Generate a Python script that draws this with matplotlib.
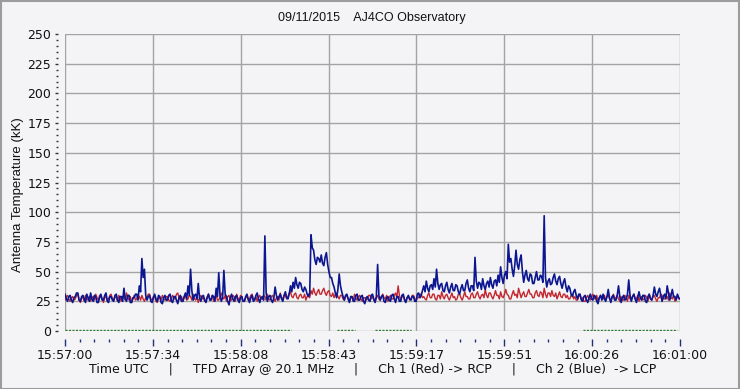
import matplotlib
matplotlib.use("Agg")
import matplotlib.pyplot as plt
import numpy as np

# two samples per second, starting 15:57:00 UTC
sample_step = 0.5

blue_lcp = [
    31, 27, 25, 29, 30, 26, 24, 28, 29, 32, 32, 26, 25, 29, 30, 27, 24, 31, 28, 25,
    32, 27, 25, 30, 29, 24, 24, 28, 31, 26, 26, 30, 32, 25, 24, 29, 29, 26, 25, 30,
    31, 26, 24, 29, 29, 25, 36, 27, 25, 30, 30, 24, 24, 28, 28, 31, 31, 26, 38, 33,
    61, 45, 52, 30, 26, 29, 30, 25, 24, 28, 31, 27, 25, 30, 29, 24, 23, 28, 30, 26,
    26, 30, 31, 25, 24, 29, 29, 26, 23, 28, 30, 25, 25, 29, 32, 27, 38, 30, 52, 34,
    26, 30, 31, 27, 40, 28, 25, 29, 30, 26, 24, 28, 31, 26, 26, 30, 29, 25, 36, 29,
    49, 30, 25, 28, 51, 31, 29, 25, 22, 28, 31, 27, 25, 29, 30, 26, 24, 28, 29, 25,
    25, 29, 31, 27, 24, 28, 30, 25, 26, 30, 32, 27, 24, 28, 29, 26, 80, 32, 25, 29,
    30, 26, 24, 28, 37, 30, 26, 29, 31, 27, 25, 30, 33, 28, 27, 31, 38, 33, 41, 36,
    45, 39, 36, 41, 40, 35, 33, 37, 35, 31, 29, 32, 81, 70, 68, 60, 56, 62, 61, 58,
    64, 57, 55, 62, 66, 56, 50, 45, 45, 40, 37, 32, 28, 35, 48, 38, 33, 29, 26, 30,
    31, 27, 24, 29, 29, 25, 25, 30, 31, 26, 26, 29, 30, 25, 23, 28, 29, 26, 25, 30,
    31, 27, 24, 29, 56, 30, 26, 29, 30, 25, 24, 28, 29, 26, 25, 30, 31, 27, 24, 29,
    29, 25, 25, 30, 31, 26, 24, 28, 30, 27, 26, 29, 29, 25, 25, 31, 32, 28, 30, 34,
    38, 33, 42, 36, 33, 38, 39, 35, 44, 37, 52, 40, 35, 39, 40, 34, 33, 38, 41, 35,
    32, 37, 40, 34, 34, 39, 38, 33, 31, 36, 39, 34, 34, 40, 43, 36, 33, 38, 38, 34,
    62, 42, 36, 41, 40, 35, 44, 38, 35, 40, 42, 37, 45, 39, 36, 42, 43, 38, 47, 41,
    54, 45, 40, 47, 50, 44, 73, 58, 61, 52, 46, 55, 68, 56, 52, 60, 64, 50, 41, 47,
    51, 44, 42, 48, 47, 40, 40, 45, 50, 43, 43, 47, 46, 41, 97, 45, 37, 42, 44, 39,
    40, 45, 48, 42, 39, 44, 46, 40, 36, 41, 44, 37, 33, 38, 36, 31, 29, 33, 35, 30,
    27, 31, 31, 26, 25, 29, 30, 26, 24, 28, 31, 27, 26, 30, 29, 25, 23, 28, 30, 26,
    31, 27, 25, 29, 35, 28, 24, 29, 30, 26, 26, 30, 38, 29, 24, 28, 30, 26, 27, 31,
    43, 30, 25, 29, 31, 27, 24, 28, 33, 28, 26, 30, 30, 25, 24, 29, 31, 27, 26, 30,
    37, 31, 29, 33, 36, 30, 25, 29, 31, 27, 38, 32, 26, 30, 35, 29, 29, 26, 31, 28,
    27,
]

red_rcp = [
    26, 29, 30, 27, 25, 28, 29, 26, 27, 30, 31, 26, 24, 28, 28, 25, 30, 27, 26, 29,
    25, 28, 29, 26, 31, 28, 26, 30, 30, 27, 24, 28, 29, 26, 27, 30, 31, 27, 26, 29,
    28, 25, 30, 27, 25, 29, 29, 26, 32, 28, 26, 29, 24, 27, 30, 26, 27, 30, 29, 26,
    30, 27, 25, 28, 28, 31, 31, 27, 26, 29, 29, 25, 24, 28, 28, 26, 30, 27, 26, 29,
    29, 26, 25, 28, 30, 27, 27, 31, 32, 28, 26, 29, 25, 28, 30, 26, 27, 30, 29, 26,
    31, 27, 26, 29, 24, 28, 30, 27, 28, 25, 26, 29, 31, 27, 27, 30, 25, 28, 30, 26,
    26, 29, 32, 28, 27, 30, 25, 29, 30, 26, 26, 30, 29, 25, 31, 27, 26, 30, 29, 25,
    25, 28, 29, 26, 27, 30, 31, 27, 26, 29, 25, 28, 30, 27, 27, 30, 29, 26, 31, 27,
    26, 29, 30, 27, 25, 28, 29, 26, 32, 28, 27, 30, 30, 27, 29, 32, 33, 29, 28, 31,
    32, 28, 27, 30, 31, 28, 28, 31, 26, 29, 31, 28, 34, 31, 36, 32, 30, 33, 35, 31,
    31, 34, 36, 32, 30, 33, 34, 30, 29, 32, 28, 31, 32, 29, 27, 30, 30, 27, 26, 29,
    30, 27, 25, 28, 29, 26, 31, 28, 26, 29, 30, 27, 25, 28, 28, 26, 27, 30, 30, 27,
    29, 26, 25, 28, 30, 27, 26, 29, 31, 28, 27, 30, 25, 28, 30, 27, 27, 30, 32, 28,
    38, 30, 26, 29, 30, 27, 25, 28, 29, 26, 27, 30, 30, 27, 25, 28, 28, 31, 31, 28,
    29, 27, 26, 30, 32, 28, 28, 31, 31, 27, 26, 30, 30, 27, 33, 29, 27, 30, 31, 28,
    26, 29, 32, 28, 29, 26, 27, 31, 31, 28, 26, 29, 33, 29, 29, 27, 27, 31, 32, 28,
    28, 31, 33, 29, 27, 30, 31, 28, 35, 30, 28, 32, 32, 29, 27, 30, 34, 30, 30, 27,
    33, 29, 28, 31, 35, 31, 30, 27, 27, 31, 34, 30, 31, 28, 36, 32, 28, 31, 33, 29,
    29, 32, 35, 31, 31, 28, 28, 32, 34, 30, 29, 33, 32, 28, 36, 31, 28, 32, 32, 29,
    34, 30, 29, 32, 27, 30, 33, 29, 28, 31, 31, 28, 30, 27, 27, 30, 31, 27, 29, 26,
    26, 29, 30, 27, 28, 25, 25, 28, 30, 27, 26, 29, 31, 27, 28, 30, 25, 28, 30, 27,
    27, 30, 26, 29, 30, 27, 25, 28, 31, 27, 28, 30, 27, 25, 29, 26, 26, 30, 28, 25,
    30, 27, 26, 29, 31, 27, 27, 30, 25, 28, 29, 26, 27, 30, 28, 25, 31, 27, 26, 29,
    30, 27, 25, 28, 28, 31, 30, 27, 27, 30, 29, 26, 32, 28, 27, 30, 25, 28, 30, 27,
    27,
]

# third channel sitting near zero, only present in some stretches (seconds)
green_runs = [(0, 88), (106, 113), (121, 135), (202, 239)]
green_level = 1.2

xtick_labels = ["15:57:00", "15:57:34", "15:58:08", "15:58:43",
                "15:59:17", "15:59:51", "16:00:26", "16:01:00"]
yticks = [0, 25, 50, 75, 100, 125, 150, 175, 200, 225, 250]

seconds = np.arange(len(blue_lcp)) * sample_step

bg = "#F4F4F6"
fig = plt.figure(figsize=(7.4, 3.89), dpi=100, facecolor=bg)
ax = fig.add_axes([65 / 740, 1 - 331 / 389, 615 / 740, 297 / 389])
ax.set_facecolor(bg)

# outer frame
fig.patches.append(plt.Rectangle((0.001, 0.001), 0.997, 0.996, transform=fig.transFigure,
                                 fill=False, edgecolor="#9C9C9C", linewidth=1.5))

for a, b in green_runs:
    ax.plot([a, b], [green_level, green_level], color="#2F7A2F", lw=1.0,
            linestyle=(0, (1.5, 1)), zorder=2)
ax.plot(seconds, red_rcp, color="#C4262E", lw=1.0, zorder=3)
ax.plot(seconds, blue_lcp, color="#0B1690", lw=1.2, zorder=4)

ax.set_xlim(0, 240)
ax.set_ylim(0, 250)
xt = np.linspace(0, 240, len(xtick_labels))
ax.set_xticks(xt)
ax.set_xticklabels(xtick_labels)
ax.set_xticks(np.linspace(0, 240, 6 * (len(xtick_labels) - 1) + 1), minor=True)
ax.set_yticks(yticks)
ax.set_yticks(np.arange(0, 251, 5), minor=True)

ax.grid(True, which="major", color="#A3A3A3", lw=1.0, zorder=1)
ax.set_axisbelow(True)
for s in ["top", "right"]:
    ax.spines[s].set_visible(False)
ax.spines["bottom"].set_position(("outward", 6))
ax.spines["left"].set_position(("outward", 5))
ax.spines["bottom"].set_color("none")
ax.spines["left"].set_color("none")

ax.tick_params(axis="x", which="major", length=5, width=1, color="#23307A",
               labelsize=9, pad=2, labelcolor="#111111")
ax.tick_params(axis="x", which="minor", length=2.5, width=1, color="#23307A")
ax.tick_params(axis="y", which="major", length=2, width=1, color="#333333",
               labelsize=9, pad=3, labelcolor="#111111")
ax.tick_params(axis="y", which="minor", length=1.5, width=1, color="#333333")

fig.text(0.503, 1 - 18 / 389, "09/11/2015    AJ4CO Observatory", ha="center", va="center",
         fontsize=9, family="Liberation Sans", color="#111111")
ax.set_xlabel("Time UTC     |     TFD Array @ 20.1 MHz     |     Ch 1 (Red) -> RCP     |     Ch 2 (Blue)  -> LCP",
              fontsize=9, color="#111111", labelpad=1)
fig.text(18 / 740, 1 - 195 / 389, "Antenna Temperature (kK)", rotation=90, ha="center",
         va="center", fontsize=9.5, family="Liberation Sans", color="#111111")

fig.savefig("out.png", dpi=100, facecolor=bg)
